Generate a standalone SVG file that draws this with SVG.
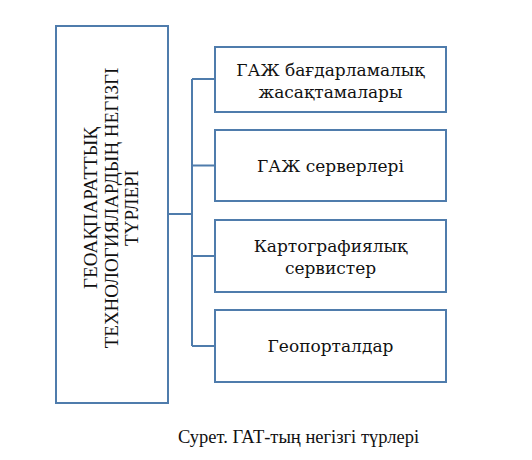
<svg xmlns="http://www.w3.org/2000/svg" width="532" height="460" viewBox="0 0 532 460">
<style>
.box{fill:#ffffff;stroke:#4f7cac;stroke-width:2}
.con{fill:none;stroke:#4f7cac;stroke-width:2}
.t{font-family:"DejaVu Serif","Liberation Serif",serif;font-size:17px;fill:#111;text-anchor:middle}
.v{font-family:"Liberation Serif",serif;font-size:19px;fill:#111;text-anchor:middle}
.cap{font-family:"Liberation Serif",serif;font-size:18.5px;fill:#111;text-anchor:middle}
</style>
<rect width="532" height="460" fill="#ffffff"/>
<g id="connectors">
<path class="con" d="M168 214H192M192 79V346M192 79H215M192 165.5H215M192 256H215M192 346H215"/>
</g>
<g id="main">
<rect class="box" x="56" y="26" width="112" height="377"/>
<text class="v" transform="translate(112 208) rotate(-90)"><tspan x="0" y="-15.5">ГЕОАҚПАРАТТЫҚ</tspan><tspan x="0" y="5.5">ТЕХНОЛОГИЯЛАРДЫҢ НЕГІЗГІ</tspan><tspan x="0" y="26">ТҮРЛЕРІ</tspan></text>
</g>
<g id="n1">
<rect class="box" x="215" y="47" width="231" height="65"/>
<text class="t"><tspan x="330.5" y="75.5">ГАЖ бағдарламалық</tspan><tspan x="330.5" y="97.5">жасақтамалары</tspan></text>
</g>
<g id="n2">
<rect class="box" x="215" y="130" width="231" height="71"/>
<text class="t" x="330.5" y="172">ГАЖ серверлері</text>
</g>
<g id="n3">
<rect class="box" x="215" y="220" width="231" height="72"/>
<text class="t"><tspan x="330.5" y="252">Картографиялық</tspan><tspan x="330.5" y="274">сервистер</tspan></text>
</g>
<g id="n4">
<rect class="box" x="215" y="310" width="231" height="72"/>
<text class="t" x="330.5" y="352">Геопорталдар</text>
</g>
<text class="cap" x="298.5" y="443">Сурет. ГАТ-тың негізгі түрлері</text>
</svg>
